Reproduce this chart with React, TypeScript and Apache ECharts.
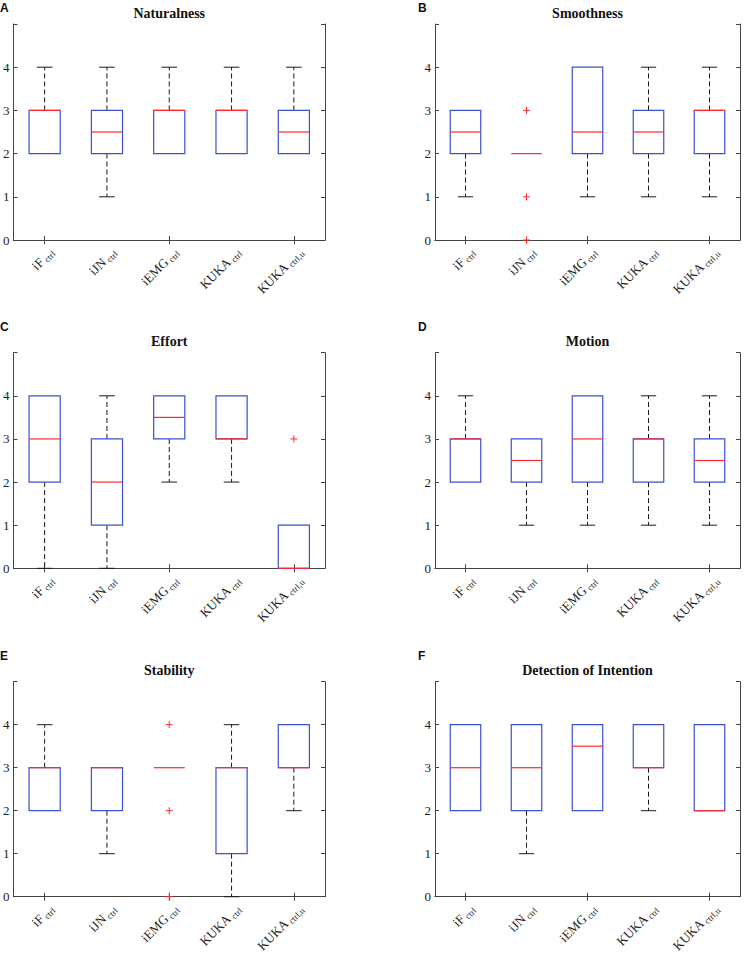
import React, { useEffect, useRef } from 'react';
import * as echarts from 'echarts';

const catMain = ['iF', 'iJN', 'iEMG', 'KUKA', 'KUKA'];
const catSub = ['ctrl', 'ctrl', 'ctrl', 'ctrl', 'ctrl,u'];
const yTicks = [0, 1, 2, 3, 4];
const titles = ['Naturalness', 'Smoothness', 'Effort', 'Motion', 'Stability', 'Detection of Intention'];
const letters = ['A', 'B', 'C', 'D', 'E', 'F'];

// per category: [min, q1, median, q3, max]
const naturalness = [[2, 2, 3, 3, 4], [1, 2, 2.5, 3, 4], [2, 2, 3, 3, 4], [2, 2, 3, 3, 4], [2, 2, 2.5, 3, 4]];
const smoothness = [[1, 2, 2.5, 3, 3], [2, 2, 2, 2, 2], [1, 2, 2.5, 4, 4], [1, 2, 2.5, 3, 4], [1, 2, 3, 3, 4]];
const effort = [[0, 2, 3, 4, 4], [0, 1, 2, 3, 4], [2, 3, 3.5, 4, 4], [2, 3, 3, 4, 4], [0, 0, 0, 1, 1]];
const motion = [[2, 2, 3, 3, 4], [1, 2, 2.5, 3, 3], [1, 2, 3, 4, 4], [1, 2, 3, 3, 4], [1, 2, 2.5, 3, 4]];
const stability = [[2, 2, 3, 3, 4], [1, 2, 3, 3, 3], [3, 3, 3, 3, 3], [0, 1, 3, 3, 4], [2, 3, 3, 4, 4]];
const detection = [[2, 2, 3, 4, 4], [1, 2, 3, 4, 4], [2, 2, 3.5, 4, 4], [2, 3, 3, 4, 4], [2, 2, 2, 4, 4]];

// outliers: [category index, value]
const naturalnessOut: number[][] = [];
const smoothnessOut = [[1, 3], [1, 1], [1, 0]];
const effortOut = [[4, 3]];
const motionOut: number[][] = [];
const stabilityOut = [[2, 4], [2, 2], [2, 0]];
const detectionOut: number[][] = [];

const panels = [naturalness, smoothness, effort, motion, stability, detection];
const outliers = [naturalnessOut, smoothnessOut, effortOut, motionOut, stabilityOut, detectionOut];

const gridRects = [
  { left: 13.5, top: 24, width: 311.5, height: 216 },
  { left: 435, top: 24, width: 305, height: 216 },
  { left: 13.5, top: 352.7, width: 311.5, height: 215.6 },
  { left: 435, top: 352.7, width: 305, height: 215.6 },
  { left: 13.5, top: 681.7, width: 311.5, height: 215 },
  { left: 435, top: 681.7, width: 305, height: 215 },
];

const BLUE = '#3b50cc';
const RED = '#ff2b2b';
const BLACK = '#1a1a1a';
const AXIS = '#444444';
const SERIF = '"Liberation Serif", "Times New Roman", serif';
const SANS = '"Liberation Sans", Arial, sans-serif';

function renderBox(params: any, api: any) {
  const idx = api.value(0);
  const mn = api.value(1), q1 = api.value(2), md = api.value(3), q3 = api.value(4), mx = api.value(5);
  const band = api.size([1, 0])[0];
  const hw = band * 0.25;
  const cw = band * 0.125;
  const cx = api.coord([idx, q1])[0];
  const y = (v: number) => api.coord([idx, v])[1];
  const children: any[] = [];
  const dash = { stroke: BLACK, lineWidth: 1, lineDash: [5, 3] };
  const solid = { stroke: BLACK, lineWidth: 1 };
  if (mx > q3) {
    children.push({ type: 'line', shape: { x1: cx, y1: y(q3), x2: cx, y2: y(mx) }, style: dash });
    children.push({ type: 'line', shape: { x1: cx - cw, y1: y(mx), x2: cx + cw, y2: y(mx) }, style: solid });
  }
  if (mn < q1) {
    children.push({ type: 'line', shape: { x1: cx, y1: y(q1), x2: cx, y2: y(mn) }, style: dash });
    children.push({ type: 'line', shape: { x1: cx - cw, y1: y(mn), x2: cx + cw, y2: y(mn) }, style: solid });
  }
  if (q3 > q1) {
    children.push({
      type: 'rect',
      shape: { x: cx - hw, y: y(q3), width: 2 * hw, height: y(q1) - y(q3) },
      style: { fill: 'none', stroke: BLUE, lineWidth: 1.2 },
    });
  }
  children.push({ type: 'line', shape: { x1: cx - hw, y1: y(md), x2: cx + hw, y2: y(md) }, style: { stroke: RED, lineWidth: 1.2 } });
  return { type: 'group', children };
}

function renderOutlier(params: any, api: any) {
  const [px, py] = api.coord([api.value(0), api.value(1)]);
  const s = 3.5;
  return {
    type: 'group',
    children: [
      { type: 'line', shape: { x1: px - s, y1: py, x2: px + s, y2: py }, style: { stroke: RED, lineWidth: 1 } },
      { type: 'line', shape: { x1: px, y1: py - s, x2: px, y2: py + s }, style: { stroke: RED, lineWidth: 1 } },
    ],
  };
}

const labelStyle = (i: number) => ({
  text: `{m|${catMain[i]}}{g| }{s|${catSub[i]}}`,
  align: 'right',
  verticalAlign: 'middle',
  fontFamily: SERIF,
  fontSize: 13,
  fill: '#222',
  rich: {
    m: { fontFamily: SERIF, fontSize: 13, fill: '#222', lineHeight: 16 },
    g: { fontFamily: SERIF, fontSize: 9, fill: '#222', lineHeight: 16 },
    s: { fontFamily: SERIF, fontSize: 9, fill: '#222', lineHeight: 16, padding: [7, 0, 0, 0] },
  },
});

function renderCatLabel(params: any, api: any) {
  const i = api.value(0);
  const [px, py] = api.coord([i, 0]);
  return { type: 'text', x: px + 7, y: py + 10, rotation: Math.PI / 4, silent: true, style: labelStyle(i) };
}

export default function App() {
  const ref = useRef<HTMLDivElement>(null);
  useEffect(() => {
    document.body.style.margin = '0';
    if (!ref.current) return;
    const chart = echarts.init(ref.current, undefined, { renderer: 'svg' });
    const grid: any[] = [];
    const xAxis: any[] = [];
    const yAxis: any[] = [];
    const series: any[] = [];
    const title: any[] = [];
    const cats = catMain.map((m, i) => `${m} ${catSub[i]}`);
    gridRects.forEach((r, gi) => {
      grid.push({ ...r, show: false });
      const axisLine = { show: true, lineStyle: { color: AXIS, width: 1 } };
      const axisTick = { show: true, inside: true, length: 4, alignWithLabel: true, lineStyle: { color: AXIS } };
      xAxis.push({
        type: 'category', gridIndex: gi, data: cats, position: 'bottom', boundaryGap: true,
        axisLine, axisTick, axisLabel: { show: false }, splitLine: { show: false },
      });
      xAxis.push({
        type: 'category', gridIndex: gi, data: cats, position: 'top', boundaryGap: true,
        axisLine, axisTick, axisLabel: { show: false }, splitLine: { show: false },
      });
      const yBase = {
        type: 'value', gridIndex: gi, min: 0, max: 5, interval: 1,
        axisLine, axisTick: { show: true, inside: true, length: 4, lineStyle: { color: AXIS } },
        splitLine: { show: false },
      };
      yAxis.push({
        ...yBase, position: 'left',
        axisLabel: {
          margin: 4, fontFamily: SERIF, fontSize: 13, color: '#222',
          formatter: (v: number) => (yTicks.includes(v) ? String(v) : ''),
        },
      });
      yAxis.push({ ...yBase, position: 'right', axisLabel: { show: false } });
      series.push({
        type: 'custom', xAxisIndex: gi * 2, yAxisIndex: gi * 2,
        data: panels[gi].map((b, i) => [i, ...b]),
        encode: { x: 0, y: [1, 2, 3, 4, 5] },
        renderItem: renderBox, clip: false,
      });
      series.push({
        type: 'custom', xAxisIndex: gi * 2, yAxisIndex: gi * 2,
        data: outliers[gi],
        encode: { x: 0, y: 1 },
        renderItem: renderOutlier, clip: false,
      });
      series.push({
        type: 'custom', xAxisIndex: gi * 2, yAxisIndex: gi * 2,
        data: catMain.map((_, i) => [i, 0]),
        encode: { x: 0, y: 1 },
        renderItem: renderCatLabel, clip: false, silent: true,
      });
      title.push({
        text: titles[gi], left: r.left + r.width / 2, top: r.top - 18, textAlign: 'center',
        padding: 0,
        textStyle: { fontFamily: SERIF, fontSize: 14, fontWeight: 'bold', color: '#111' },
      });
    });
    const letterTops = [2, 2, 321, 321, 650, 650];
    letters.forEach((l, i) => {
      title.push({
        text: l, left: i % 2 === 0 ? 0 : 418, top: letterTops[i], padding: 0,
        textStyle: { fontFamily: SANS, fontSize: 12, fontWeight: 'bold', color: '#111' },
      });
    });
    chart.setOption({ animation: false, backgroundColor: '#fff', title, grid, xAxis, yAxis, series });
    return () => chart.dispose();
  }, []);
  return <div ref={ref} style={{ width: 747, height: 954 }} />;
}
